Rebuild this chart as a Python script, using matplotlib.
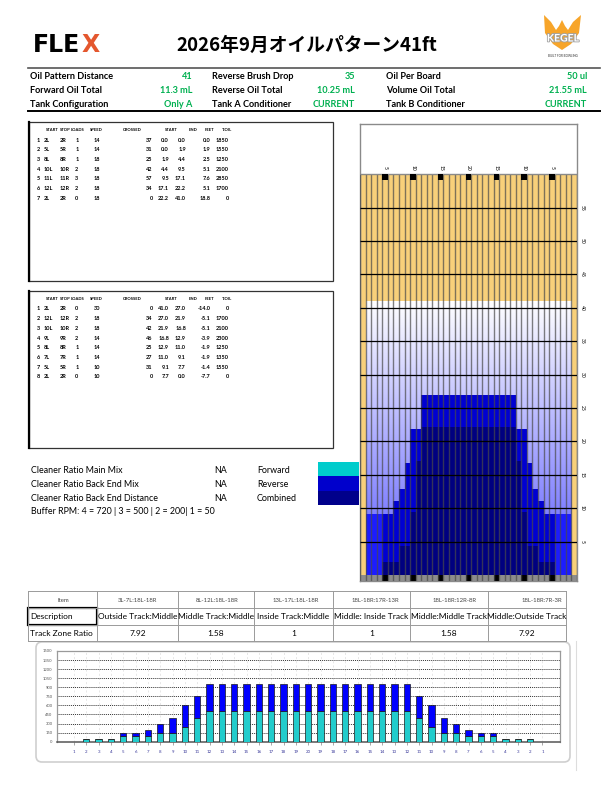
import numpy as np
import matplotlib
matplotlib.use("Agg")
import matplotlib.pyplot as plt
from matplotlib.patches import Rectangle, FancyBboxPatch, Polygon
import matplotlib.patheffects as pe

plt.rcParams['font.family'] = ['Lato', 'Noto Sans CJK JP', 'DejaVu Sans']

# ---- header data ----
title = "2026年9月オイルパターン41ft"
info_labels = [["Oil Pattern Distance", "Reverse Brush Drop", "Oil Per Board"],
               ["Forward Oil Total", "Reverse Oil Total", "Volume Oil Total"],
               ["Tank Configuration", "Tank A Conditioner", "Tank B Conditioner"]]
info_values = [["41", "35", "50 ul"],
               ["11.3 mL", "10.25 mL", "21.55 mL"],
               ["Only A", "CURRENT", "CURRENT"]]

# ---- forward / reverse load tables ----
table_head = ["START", "STOP", "LOADS", "SPEED", "CROSSED", "START", "END", "FEET", "T.OIL"]
fwd_start = ["2L", "5L", "8L", "10L", "11L", "12L", "2L"]
fwd_stop = ["2R", "5R", "8R", "10R", "11R", "12R", "2R"]
fwd_loads = [1, 1, 1, 2, 3, 2, 0]
fwd_speed = [14, 14, 18, 18, 18, 18, 18]
fwd_crossed = [37, 31, 25, 42, 57, 34, 0]
fwd_from = [0.0, 0.0, 1.9, 4.4, 9.5, 17.1, 22.2]
fwd_to = [0.0, 1.9, 4.4, 9.5, 17.1, 22.2, 41.0]
fwd_feet = [0.0, 1.9, 2.5, 5.1, 7.6, 5.1, 18.8]
fwd_toil = [1850, 1550, 1250, 2100, 2850, 1700, 0]

rev_start = ["2L", "12L", "10L", "9L", "8L", "7L", "5L", "2L"]
rev_stop = ["2R", "12R", "10R", "9R", "8R", "7R", "5R", "2R"]
rev_loads = [0, 2, 2, 2, 1, 1, 1, 0]
rev_speed = [30, 18, 18, 14, 14, 14, 10, 10]
rev_crossed = [0, 34, 42, 46, 25, 27, 31, 0]
rev_from = [41.0, 27.0, 21.9, 16.8, 12.9, 11.0, 9.1, 7.7]
rev_to = [27.0, 21.9, 16.8, 12.9, 11.0, 9.1, 7.7, 0.0]
rev_feet = [-14.0, -5.1, -5.1, -3.9, -1.9, -1.9, -1.4, -7.7]
rev_toil = [0, 1700, 2100, 2300, 1250, 1350, 1550, 0]

# ---- cleaner text ----
cleaner_labels = ["Cleaner Ratio Main Mix", "Cleaner Ratio Back End Mix", "Cleaner Ratio Back End Distance"]
cleaner_values = ["NA", "NA", "NA"]
legend_names = ["Forward", "Reverse", "Combined"]
legend_colors = ["#00cccc", "#0000cc", "#00008b"]
buffer_text = "Buffer RPM: 4 = 720 | 3 = 500 | 2 = 200| 1 = 50"

# ---- lane graph (per board 1..39, feet) ----
boards = np.arange(1, 40)
pattern_len = 41.0
lane_len = 60
reverse_top = [0, 9.1, 9.1, 9.1, 9.1, 9.1, 11.0, 12.9, 16.8, 21.9, 21.9,
               27.0, 27.0, 27.0, 27.0, 27.0, 27.0, 27.0, 27.0, 27.0, 27.0, 27.0, 27.0, 27.0, 27.0, 27.0, 27.0, 27.0,
               21.9, 21.9, 16.8, 12.9, 11.0, 9.1, 9.1, 9.1, 9.1, 9.1, 0]
combined_top = [0, 0, 0, 0, 1.9, 1.9, 1.9, 4.4, 4.4, 9.5, 17.1,
                22.2, 22.2, 22.2, 22.2, 22.2, 22.2, 22.2, 22.2, 22.2, 22.2, 22.2, 22.2, 22.2, 22.2, 22.2, 22.2, 22.2,
                17.1, 9.5, 4.4, 4.4, 1.9, 1.9, 1.9, 0, 0, 0, 0]
outer_boards = [2, 3, 4, 36, 37, 38]
arrow_boards = [5, 10, 15, 20, 25, 30, 35]
arrow_labels = ["5", "10", "15", "20", "15", "10", "5"]

# ---- track zone table ----
zone_items = ["Item", "3L-7L:18L-18R", "8L-12L:18L-18R", "13L-17L:18L-18R",
              "18L-18R:17R-13R", "18L-18R:12R-8R", "18L-18R:7R-3R"]
zone_desc = ["Description", "Outside Track:Middle", "Middle Track:Middle", "Inside Track:Middle",
             "Middle: Inside Track", "Middle:Middle Track", "Middle:Outside Track"]
zone_ratio = ["Track Zone Ratio", "7.92", "1.58", "1", "1", "1.58", "7.92"]

# ---- oil per board bar chart ----
board_labels = ["1", "2", "3", "4", "5", "6", "7", "8", "9", "10", "11", "12", "13", "14", "15", "16",
                "17", "18", "19", "20", "19", "18", "17", "16", "15", "14", "13", "12", "11", "10",
                "9", "8", "7", "6", "5", "4", "3", "2", "1"]
fwd_oil = [0, 50, 50, 50, 100, 100, 100, 150, 150, 250, 400,
           500, 500, 500, 500, 500, 500, 500, 500, 500, 500, 500, 500, 500, 500, 500, 500, 500,
           400, 250, 150, 150, 100, 100, 100, 50, 50, 50, 0]
rev_oil = [0, 0, 0, 0, 50, 50, 100, 150, 250, 350, 350,
           450, 450, 450, 450, 450, 450, 450, 450, 450, 450, 450, 450, 450, 450, 450, 450, 450,
           350, 350, 250, 150, 100, 50, 50, 0, 0, 0, 0]

W, H = 609, 786
fig = plt.figure(figsize=(W / 100, H / 100), dpi=100, facecolor="white")

# page overlay in pixel units
ax0 = fig.add_axes([0, 0, 1, 1])
ax0.set_xlim(0, W)
ax0.set_ylim(H, 0)
ax0.axis("off")

# logos
ax0.text(33, 45, "FLE", fontsize=17, fontweight="bold", family="DejaVu Sans", va="center", ha="left")
ax0.text(82, 45, "X", fontsize=17, fontweight="bold", family="DejaVu Sans", va="center", ha="left",
         color="#e4572e")
bird = [(544, 15), (551, 22), (556, 30), (559, 26), (562, 20), (565, 26), (568, 30),
        (573, 22), (581, 15), (579, 33), (571, 44), (562, 50), (553, 44), (545, 33)]
ax0.add_patch(Polygon(bird, closed=True, facecolor="#f7a52a", edgecolor="none"))
ax0.text(563, 39, "KEGEL", fontsize=7.5, fontweight="bold", color="white", ha="center", va="center",
         path_effects=[pe.withStroke(linewidth=1.2, foreground="#a0a0a0")])
ax0.text(563, 56, "BUILT FOR BOWLING", fontsize=2.2, color="#333333", ha="center", va="center")

ax0.text(307, 45, title, fontsize=13.5, fontweight="bold", family=["Noto Sans CJK JP", "DejaVu Sans"],
         ha="center", va="center")

ax0.plot([28, 600], [68, 68], color="#555555", lw=1.2)
ax0.plot([28, 600], [111, 111], color="black", lw=1.4)

label_x = [30.5, 211.5, 386]
value_x = [192.5, 355, 587]
row_y = [76.5, 90.3, 104.3]
for r in range(3):
    for c in range(3):
        ax0.text(label_x[c], row_y[r], info_labels[r][c], fontsize=6.6, fontweight="bold",
                 ha="left", va="center")
        ax0.text(value_x[c], row_y[r], info_values[r][c], fontsize=6.6, fontweight="bold",
                 ha="right", va="center", color="#00b050")


def draw_table(top, bottom, start, stop, loads, speed, crossed, d_from, d_to, feet, toil):
    ax0.add_patch(Rectangle((28.5, top), 304, bottom - top, facecolor="white", edgecolor="#333333", lw=0.9))
    ax0.plot([28.5, 28.5], [top, bottom], color="black", lw=1.6)
    head_x = [45.7, 59.5, 71, 90, 122.5, 165, 188.3, 205, 221.7]
    for hx, h in zip(head_x, table_head):
        ax0.text(hx, top + 8, h, fontsize=3.0, fontweight="bold", ha="left", va="center")
    for i in range(len(start)):
        y = top + 18 + i * 9.7
        row = [(38.5, str(i + 1), "center"), (43.3, start[i], "left"), (59.3, stop[i], "left"),
               (78.5, str(loads[i]), "right"), (100, str(speed[i]), "right"),
               (152.7, str(crossed[i]), "right"), (169, "%.1f" % d_from[i], "right"),
               (186, "%.1f" % d_to[i], "right"), (210.3, "%.1f" % feet[i], "right"),
               (229, str(toil[i]), "right")]
        for x, s, ha in row:
            ax0.text(x, y, s, fontsize=4.0, fontweight="bold", ha=ha, va="center")


draw_table(122, 281, fwd_start, fwd_stop, fwd_loads, fwd_speed, fwd_crossed, fwd_from, fwd_to, fwd_feet, fwd_toil)
draw_table(291, 448, rev_start, rev_stop, rev_loads, rev_speed, rev_crossed, rev_from, rev_to, rev_feet, rev_toil)

# cleaner block
for i in range(3):
    y = 470.5 + i * 13.8
    ax0.text(31, y, cleaner_labels[i], fontsize=6.4, ha="left", va="center")
    ax0.text(214, y, cleaner_values[i], fontsize=6.4, ha="left", va="center")
    ax0.text(257, y, legend_names[i], fontsize=6.4, ha="left", va="center")
    ax0.add_patch(Rectangle((318, 462 + i * 14.4), 41, 14.4, facecolor=legend_colors[i], edgecolor="none"))
ax0.text(31, 511.5, buffer_text, fontsize=6.4, ha="left", va="center")

# track zone table
col_edges = [28, 97, 178, 254, 333, 410, 488, 566]
head_cx = [63, 137, 217, 296, 375, 455, 542]
row_edges = [591, 608, 625, 641]
for x in col_edges:
    ax0.plot([x, x], [row_edges[0], row_edges[-1]], color="#9a9a9a", lw=0.7)
for y in row_edges:
    ax0.plot([col_edges[0], col_edges[-1]], [y, y], color="#9a9a9a", lw=0.7)
for i in range(7):
    ax0.text(head_cx[i], 600, zone_items[i], fontsize=4.3, color="#444444", ha="center", va="center")
    cx = (col_edges[i] + col_edges[i + 1]) / 2
    if i == 0:
        ax0.text(30, 616.5, zone_desc[i], fontsize=6, ha="left", va="center")
        ax0.text(30, 633, zone_ratio[i], fontsize=6, ha="left", va="center")
    else:
        ax0.text(cx, 616.5, zone_desc[i], fontsize=6, ha="center", va="center")
        ax0.text(cx, 633, zone_ratio[i], fontsize=6, ha="center", va="center")
ax0.add_patch(Rectangle((28, 608), 69, 17, facecolor="none", edgecolor="black", lw=1.6))

# chart panel
ax0.add_patch(FancyBboxPatch((36, 642), 534, 120, boxstyle="round,pad=0,rounding_size=6",
                             facecolor="white", edgecolor="#cfcfcf", lw=1.2))
ax0.plot([576, 576], [641, 770], color="#dddddd", lw=0.8)

# ---- lane graph ----
lx0, lx1, ly0, ly1 = 360, 577, 124, 581
axl = fig.add_axes([lx0 / W, 1 - ly1 / H, (lx1 - lx0) / W, (ly1 - ly0) / H])
axl.set_xlim(0.5, 39.5)
axl.set_ylim(-0.9, 67.5)
axl.bar(boards, lane_len, width=1, color="#f8d07a", zorder=0)
grad = np.linspace(0, 1, 200)[:, None]
cols = np.dstack([0.36 + 0.64 * grad, 0.36 + 0.64 * grad, np.ones_like(grad)])
axl.imshow(cols, extent=(1.5, 38.5, 0, pattern_len), origin="lower", aspect="auto", zorder=1)
shade = ["#1c1cff" if b in outer_boards else "#0000d2" for b in boards]
axl.bar(boards, reverse_top, width=1, color=shade, zorder=2)
axl.bar(boards, combined_top, width=1, color="#000080", zorder=3)
axl.bar(boards, 0.9, bottom=-0.9, width=1, color="#8c8c8c", zorder=3)
axl.bar(arrow_boards, 0.9, bottom=-0.9, width=1, color="black", zorder=4)
axl.vlines(np.arange(0.5, 40.5, 1), -0.9, lane_len, colors="#4a4a4a", lw=1.0, alpha=0.7, zorder=5)
axl.hlines(np.arange(5, lane_len, 5), 0.5, 39.5, colors="black", lw=0.9, zorder=6)
axl.hlines(lane_len, 0.5, 39.5, colors="#8a8a8a", lw=1.0, zorder=6)
axl.bar(arrow_boards, 0.9, bottom=lane_len - 0.9, width=1, color="black", zorder=7)
for b, s in zip(arrow_boards, arrow_labels):
    axl.text(b, 61.0, s, fontsize=3.6, rotation=-90, ha="center", va="center", zorder=7)
for d in range(5, lane_len, 5):
    axl.text(40.5, d, str(d), fontsize=3.6, rotation=-90, ha="center", va="center", clip_on=False)
axl.set_xticks([])
axl.set_yticks([])
for s in axl.spines.values():
    s.set_color("#8a8a8a")
    s.set_linewidth(1.0)

# ---- bar chart ----
bx0, bx1, by0, by1 = 56.7, 560, 651, 741.7
axb = fig.add_axes([bx0 / W, 1 - by1 / H, (bx1 - bx0) / W, (by1 - by0) / H])
xb = np.arange(1, 40)
axb.bar(xb, fwd_oil, width=0.52, color="#22cccc", edgecolor="#1a1a1a", lw=0.5, zorder=3)
axb.bar(xb, rev_oil, bottom=fwd_oil, width=0.52, color="#0000ff", edgecolor="#1a1a1a", lw=0.5, zorder=3)
axb.set_xlim(-0.4, 40.42)
axb.set_ylim(0, 1500)
axb.set_yticks(np.arange(0, 1501, 150))
axb.set_xticks(xb)
axb.set_xticklabels(board_labels)
axb.tick_params(axis="y", labelsize=3, colors="#555555", length=0, pad=3)
axb.tick_params(axis="x", labelsize=3.2, labelcolor="#3a3a9a", length=2, width=0.4, color="#666666", pad=4)
axb.grid(axis="y", linestyle=(0, (1, 1)), color="#333333", lw=0.7, zorder=1)
axb.grid(axis="x", linestyle=(0, (3, 3)), color="#dddddd", lw=0.5, zorder=1)
for s in axb.spines.values():
    s.set_color("#9a9a9a")
    s.set_linewidth(0.9)
axb.spines["bottom"].set_color("#555555")
axb.spines["bottom"].set_linewidth(1.1)

fig.savefig("out.png", dpi=100)
